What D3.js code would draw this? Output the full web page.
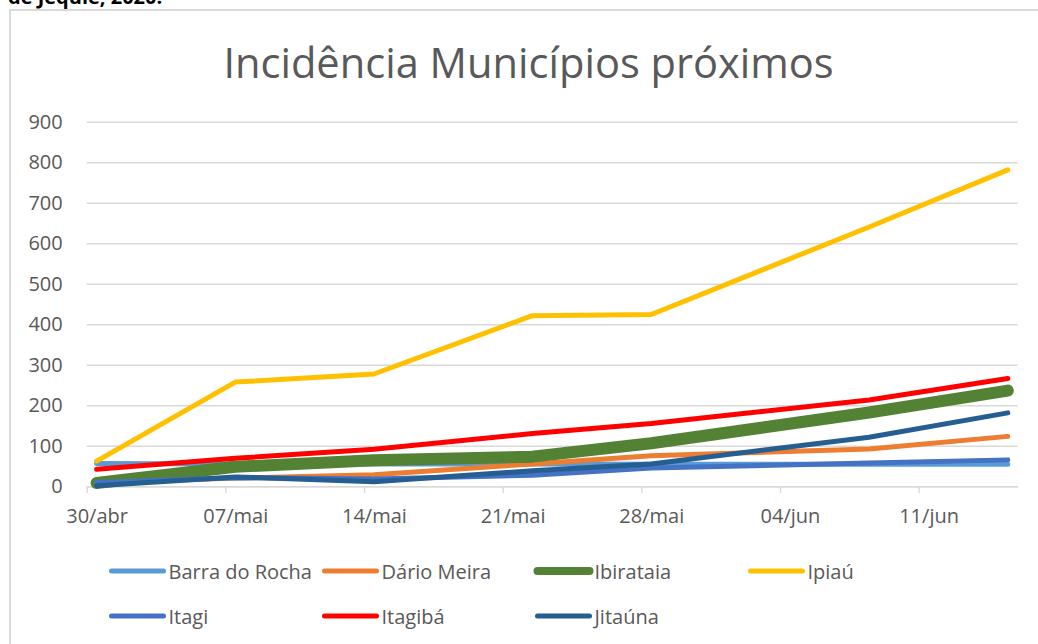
<!DOCTYPE html>
<html>
<head>
<meta charset="utf-8">
<script src="https://cdn.jsdelivr.net/npm/d3@7"></script>
<style>
  body { margin: 0; background: #fff; }
  svg { display: block; font-family: "Open Sans", sans-serif; }
</style>
</head>
<body>
<svg width="1038" height="644"></svg>
<script>
// dates of the reports (dd/mm, 2020)
var dates = ["2020-04-30", "2020-05-07", "2020-05-14", "2020-05-22", "2020-05-28", "2020-06-08", "2020-06-15"];
var tickLabels = ["30/abr", "07/mai", "14/mai", "21/mai", "28/mai", "04/jun", "11/jun"];

var names = ["Barra do Rocha", "Dário Meira", "Ibirataia", "Ipiaú", "Itagi", "Itagibá", "Jitaúna"];
var barraDoRocha = [56, 55, 55, 55, 54, 54, 54];
var darioMeira   = [8, 20, 28, 55, 75, 92, 123];
var ibirataia    = [8, 48, 64, 73, 106, 182, 236];
var ipiau        = [62, 257, 277, 421, 424, 640, 781];
var itagi        = [9, 21, 18, 27, 45, 57, 65];
var itagiba      = [42, 69, 91, 130, 155, 213, 266];
var jitauna      = [1, 23, 11, 38, 55, 121, 181];

var colors = ["#5B9BD5", "#ED7D31", "#548235", "#FFC000", "#4472C4", "#FF0000", "#255E91"];
var widths = [5, 5, 12, 5, 5, 5, 5];

var allValues = [barraDoRocha, darioMeira, ibirataia, ipiau, itagi, itagiba, jitauna];

var svg = d3.select("svg");
var parse = d3.timeParse("%Y-%m-%d");
var halfDay = 12 * 3600 * 1000;

// chart frame (cut by the page edge)
svg.append("rect")
    .attr("x", 10).attr("y", 10)
    .attr("width", 1100).attr("height", 700)
    .attr("fill", "none")
    .attr("stroke", "#d9d9d9")
    .attr("stroke-width", 2);

// caption above the chart, cut off at the top
svg.append("text")
    .attr("x", 8).attr("y", 4)
    .attr("font-weight", "bold")
    .attr("font-size", 20)
    .attr("fill", "#000")
    .text("de Jequié, 2020.");

var plotLeft = 86.7, plotRight = 1017.7, plotTop = 121.7, plotBottom = 486.2;

var x = d3.scaleTime()
    .domain([parse("2020-04-30"), parse("2020-06-16")])
    .range([plotLeft, plotRight]);

var y = d3.scaleLinear()
    .domain([0, 900])
    .range([plotBottom, plotTop]);

// gridlines + y labels
var yAxis = svg.append("g")
    .attr("transform", "translate(" + plotLeft + ",0)")
    .call(d3.axisLeft(y).tickValues(d3.range(0, 901, 100))
        .tickSize(-(plotRight - plotLeft)).tickSizeOuter(0).tickPadding(24));
yAxis.select(".domain").remove();
yAxis.selectAll(".tick line").attr("stroke", "#d9d9d9").attr("stroke-width", 1.4);
yAxis.selectAll(".tick text")
    .attr("fill", "#595959")
    .attr("font-size", 20)
    .attr("font-family", "Open Sans, sans-serif");

// x axis
var tickDates = tickLabels.map(function(d, i) { return d3.timeDay.offset(parse("2020-04-30"), i * 7); });
var xAxis = svg.append("g")
    .attr("transform", "translate(0," + plotBottom + ")")
    .call(d3.axisBottom(x).tickValues(tickDates).tickSize(7).tickSizeOuter(0)
        .tickFormat(function(d, i) { return tickLabels[i]; }));
xAxis.select(".domain").attr("stroke", "#d9d9d9").attr("stroke-width", 1.4);
xAxis.selectAll(".tick line").attr("stroke", "#d9d9d9").attr("stroke-width", 1.4);
xAxis.selectAll(".tick text")
    .attr("fill", "#595959")
    .attr("font-size", 20)
    .attr("font-family", "Open Sans, sans-serif")
    .attr("x", x(new Date(+parse("2020-04-30") + halfDay)) - plotLeft)
    .attr("y", 0)
    .attr("dy", "37px");

// lines
var line = d3.line()
    .x(function(d) { return x(new Date(+parse(d.date) + halfDay)); })
    .y(function(d) { return y(d.value); });

allValues.forEach(function(vals, i) {
    var pts = vals.map(function(v, j) { return {date: dates[j], value: v}; });
    svg.append("path")
        .datum(pts)
        .attr("d", line)
        .attr("fill", "none")
        .attr("stroke", colors[i])
        .attr("stroke-width", widths[i])
        .attr("stroke-linecap", "round")
        .attr("stroke-linejoin", "round");
});

// title
svg.append("text")
    .attr("x", 528.5).attr("y", 78)
    .attr("text-anchor", "middle")
    .attr("font-size", 41.6)
    .attr("fill", "#595959")
    .text("Incidência Municípios próximos");

// legend, 4 columns
var legend = svg.append("g");
names.forEach(function(name, i) {
    var col = i % 4, row = Math.floor(i / 4);
    var lx = 109.5 + col * 213, ly = 571 + row * 45;
    var g = legend.append("g").attr("transform", "translate(" + lx + "," + ly + ")");
    g.append("line")
        .attr("x1", 2).attr("x2", 54)
        .attr("stroke", colors[i])
        .attr("stroke-width", i === 2 ? 8 : 5)
        .attr("stroke-linecap", "round");
    g.append("text")
        .attr("x", 59).attr("y", 7.5)
        .attr("font-size", 20)
        .attr("fill", "#595959")
        .text(name);
});
</script>
</body>
</html>
